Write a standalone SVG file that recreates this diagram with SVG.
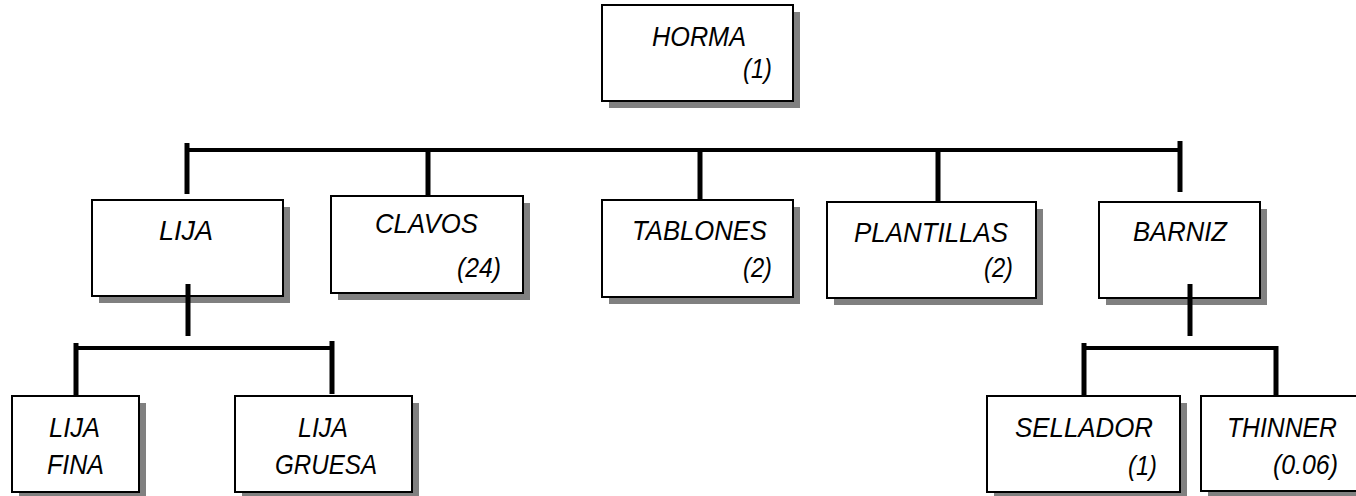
<svg xmlns="http://www.w3.org/2000/svg" width="1356" height="496" viewBox="0 0 1356 496">
<defs>
<style>
.sh{fill:#808080;}
.bx{fill:#ffffff;stroke:#000000;stroke-width:2;}
.t{font-family:"Liberation Sans",Arial,sans-serif;font-style:italic;font-size:28px;fill:#000000;}
.bar{stroke:#000000;stroke-width:4;fill:none;}
.tk{stroke:#000000;stroke-width:5;fill:none;}
</style>
</defs>
<rect width="1356" height="496" fill="#ffffff"/>
<g id="horma">
<rect class="sh" x="609" y="12" width="191" height="96"/>
<rect class="bx" x="602" y="5" width="191" height="96"/>
<text class="t" x="652" y="46" textLength="94" lengthAdjust="spacingAndGlyphs">HORMA</text>
<text class="t" x="743" y="78" textLength="29" lengthAdjust="spacingAndGlyphs">(1)</text>
</g>
<g id="lija">
<rect class="sh" x="99" y="207" width="191" height="96"/>
<rect class="bx" x="92" y="200" width="191" height="96"/>
<text class="t" x="159" y="240" textLength="54" lengthAdjust="spacingAndGlyphs">LIJA</text>
</g>
<g id="clavos">
<rect class="sh" x="338" y="203" width="192" height="97"/>
<rect class="bx" x="331" y="196" width="192" height="97"/>
<text class="t" x="375" y="233" textLength="103" lengthAdjust="spacingAndGlyphs">CLAVOS</text>
<text class="t" x="457" y="277" textLength="44" lengthAdjust="spacingAndGlyphs">(24)</text>
</g>
<g id="tablones">
<rect class="sh" x="609" y="207" width="191" height="97"/>
<rect class="bx" x="602" y="200" width="191" height="97"/>
<text class="t" x="632" y="240" textLength="135" lengthAdjust="spacingAndGlyphs">TABLONES</text>
<text class="t" x="743" y="277" textLength="29" lengthAdjust="spacingAndGlyphs">(2)</text>
</g>
<g id="plantillas">
<rect class="sh" x="834" y="209" width="209" height="96"/>
<rect class="bx" x="827" y="202" width="209" height="96"/>
<text class="t" x="854" y="242" textLength="154" lengthAdjust="spacingAndGlyphs">PLANTILLAS</text>
<text class="t" x="984" y="277" textLength="29" lengthAdjust="spacingAndGlyphs">(2)</text>
</g>
<g id="barniz">
<rect class="sh" x="1106" y="209" width="161" height="96"/>
<rect class="bx" x="1099" y="202" width="161" height="96"/>
<text class="t" x="1133" y="241" textLength="94" lengthAdjust="spacingAndGlyphs">BARNIZ</text>
</g>
<g id="lija-fina">
<rect class="sh" x="19" y="403" width="127" height="96"/>
<rect class="bx" x="12" y="396" width="127" height="96"/>
<text class="t" x="49" y="437" textLength="51" lengthAdjust="spacingAndGlyphs">LIJA</text>
<text class="t" x="47" y="474" textLength="57" lengthAdjust="spacingAndGlyphs">FINA</text>
</g>
<g id="lija-gruesa">
<rect class="sh" x="242" y="403" width="177" height="96"/>
<rect class="bx" x="235" y="396" width="177" height="96"/>
<text class="t" x="298" y="437" textLength="50" lengthAdjust="spacingAndGlyphs">LIJA</text>
<text class="t" x="275" y="474" textLength="102" lengthAdjust="spacingAndGlyphs">GRUESA</text>
</g>
<g id="sellador">
<rect class="sh" x="994" y="403" width="193" height="96"/>
<rect class="bx" x="987" y="396" width="193" height="96"/>
<text class="t" x="1015" y="437" textLength="138" lengthAdjust="spacingAndGlyphs">SELLADOR</text>
<text class="t" x="1128" y="475" textLength="29" lengthAdjust="spacingAndGlyphs">(1)</text>
</g>
<g id="thinner">
<rect class="sh" x="1208" y="403" width="170" height="95"/>
<rect class="bx" x="1201" y="396" width="170" height="95"/>
<text class="t" x="1227" y="437" textLength="110" lengthAdjust="spacingAndGlyphs">THINNER</text>
<text class="t" x="1273" y="474" textLength="65" lengthAdjust="spacingAndGlyphs">(0.06)</text>
</g>
<g id="connectors">
<line class="bar" x1="187" y1="150" x2="1180" y2="150"/>
<line class="tk" x1="187" y1="143" x2="187" y2="194"/>
<line class="tk" x1="428" y1="150" x2="428" y2="196"/>
<line class="tk" x1="700" y1="150" x2="700" y2="200"/>
<line class="tk" x1="938" y1="150" x2="938" y2="202"/>
<line class="tk" x1="1180" y1="141" x2="1180" y2="192"/>
<line class="tk" x1="188" y1="284" x2="188" y2="336"/>
<line class="bar" x1="76" y1="348" x2="332" y2="348"/>
<line class="tk" x1="76" y1="343" x2="76" y2="396"/>
<line class="tk" x1="332" y1="341" x2="332" y2="394"/>
<line class="tk" x1="1190" y1="284" x2="1190" y2="336"/>
<line class="bar" x1="1084" y1="348" x2="1276" y2="348"/>
<line class="tk" x1="1084" y1="343" x2="1084" y2="396"/>
<line class="tk" x1="1276" y1="346" x2="1276" y2="396"/>
</g>
</svg>
